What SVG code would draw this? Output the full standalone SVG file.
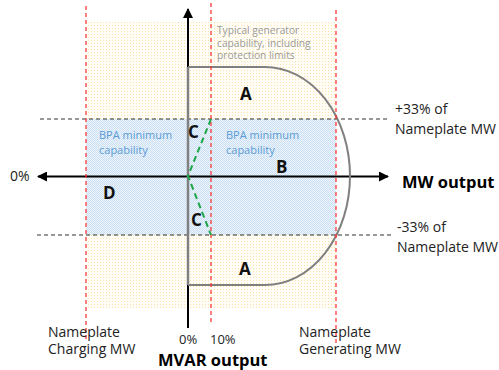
<svg xmlns="http://www.w3.org/2000/svg" width="499" height="370" viewBox="0 0 499 370">
<defs>
<pattern id="dots" width="3" height="3" patternUnits="userSpaceOnUse">
<rect width="3" height="3" fill="#fffdf6"/>
<rect x="1" y="1" width="1" height="1" fill="#fbe3ad"/>
</pattern>
<pattern id="check" width="2" height="2" patternUnits="userSpaceOnUse">
<rect width="2" height="2" fill="#eef4fb"/>
<rect width="1" height="1" fill="#cadff2"/>
<rect x="1" y="1" width="1" height="1" fill="#cadff2"/>
</pattern>
<marker id="arr" viewBox="0 0 10 10" refX="9" refY="5" markerWidth="5" markerHeight="5" orient="auto-start-reverse" markerUnits="strokeWidth">
<path d="M0,0 L10,5 L0,10 z" fill="#000"/>
</marker>
<style>
text{font-family:"Open Sans","Liberation Sans",sans-serif;}
.lbl{font-size:14px;fill:#222;}
.pct{font-size:13px;fill:#222;}
.big{font-size:16.5px;font-weight:bold;fill:#000;}
.zone{font-size:17px;font-weight:bold;fill:#111;}
.bpa{font-size:11px;fill:#5b9bd5;}
.note{font-size:10.2px;fill:#9a9a9a;}
.red{stroke:#ff2a2a;stroke-width:1.2;stroke-dasharray:4 3;fill:none;}
.blk{stroke:#333;stroke-width:1.2;stroke-dasharray:4 3;fill:none;}
.axis{stroke:#000;stroke-width:2;fill:none;}
.cap{stroke:#808080;stroke-width:2;fill:none;}
.grn{stroke:#1ea54a;stroke-width:2;stroke-dasharray:6 4;fill:none;}
</style>
</defs>

<g id="regions">
<rect id="yellow-zone" x="86" y="22" width="250" height="286" fill="url(#dots)"/>
<rect id="blue-zone" x="86" y="119" width="250" height="116" fill="url(#check)"/>
</g>

<g id="texts-bpa">
<text class="bpa" x="99" y="139">BPA minimum</text>
<text class="bpa" x="99" y="154">capability</text>
<text class="bpa" x="226" y="139">BPA minimum</text>
<text class="bpa" x="226" y="154">capability</text>
</g>

<g id="note">
<text class="note" x="217" y="34">Typical generator</text>
<text class="note" x="217" y="46.5">capability, including</text>
<text class="note" x="217" y="59">protection limits</text>
</g>

<g id="connectors">
<line class="blk" x1="40" y1="119" x2="390" y2="119"/>
<line class="blk" x1="37" y1="235" x2="391" y2="235"/>
<line class="axis" x1="188" y1="328" x2="188" y2="9" marker-end="url(#arr)"/>
<line class="axis" x1="38" y1="176.5" x2="388" y2="176.5" marker-start="url(#arr)" marker-end="url(#arr)"/>
<line x1="188" y1="67" x2="188" y2="285" stroke="#808080" stroke-width="2.5"/>
<path class="cap" d="M188,67 H265 A85,109 0 0 1 350,176 A85,109 0 0 1 265,285 H188"/>
<line class="red" x1="86" y1="6" x2="86" y2="342"/>
<line class="red" x1="211" y1="3" x2="211" y2="324"/>
<line class="red" x1="336" y1="10" x2="336" y2="345"/>
<polyline class="grn" points="211,119 188,176 211,235"/>
</g>

<g id="zones">
<text class="zone" x="240" y="100">A</text>
<text class="zone" x="239" y="275">A</text>
<text class="zone" x="276" y="173">B</text>
<text class="zone" x="188" y="138">C</text>
<text class="zone" x="191" y="226">C</text>
<text class="zone" x="103" y="199">D</text>
</g>

<g id="labels">
<text class="lbl" x="10" y="181">0%</text>
<text class="big" x="402" y="188">MW output</text>
<text class="lbl" x="395" y="114">+33% of</text>
<text class="lbl" x="395" y="134">Nameplate MW</text>
<text class="lbl" x="397" y="232">-33% of</text>
<text class="lbl" x="397" y="252">Nameplate MW</text>
<text class="lbl" x="48" y="337">Nameplate</text>
<text class="lbl" x="48" y="354">Charging MW</text>
<text class="lbl" x="299" y="337">Nameplate</text>
<text class="lbl" x="299" y="354">Generating MW</text>
<text class="pct" x="179" y="344">0%</text>
<text class="pct" x="210" y="344">10%</text>
<text class="big" x="158" y="366">MVAR output</text>
</g>
</svg>
